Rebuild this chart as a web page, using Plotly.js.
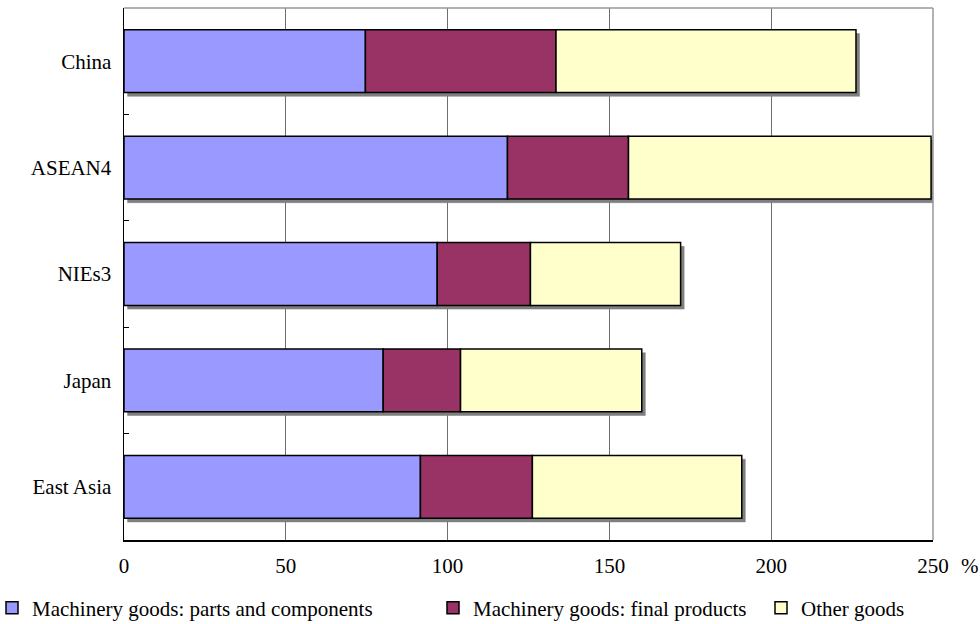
<!DOCTYPE html>
<html>
<head>
<meta charset="utf-8">
<script src="https://cdn.plot.ly/plotly-3.0.1.min.js"></script>
<style>html,body{margin:0;padding:0;background:#fff;}#chart{width:980px;height:624px;}</style>
</head>
<body>
<div id="chart"></div>
<script>
const categories = ["East Asia", "Japan", "NIEs3", "ASEAN4", "China"];
const partsComponents = [91.6, 80.1, 96.8, 118.5, 74.6];
const finalProducts = [34.6, 23.9, 28.8, 37.4, 58.9];
const otherGoods = [64.7, 56.0, 46.4, 93.5, 92.7];
const seriesNames = ["Machinery goods: parts and components", "Machinery goods: final products", "Other goods"];
const xTickVals = [0, 50, 100, 150, 200, 250];

const totals = categories.map((c, i) => partsComponents[i] + finalProducts[i] + otherGoods[i]);
const shadowBase = categories.map(() => 1.1);
const base1 = categories.map(() => 0);
const base2 = partsComponents.slice();
const base3 = categories.map((c, i) => partsComponents[i] + finalProducts[i]);

const W = 0.59;
const font = {family: "Liberation Serif", size: 21, color: "#000"};
const lineStyle = {color: "#000", width: 1.5};

const traces = [
  {type: "bar", orientation: "h", y: categories, x: totals, base: shadowBase, width: W, offset: -W/2 - 0.035,
   marker: {color: "#7f7f7f", line: {color: "#7f7f7f", width: 0.5}}, showlegend: false},
  {type: "bar", orientation: "h", name: seriesNames[0], y: categories, x: partsComponents, base: base1, width: W, offset: -W/2,
   marker: {color: "#9999FF", line: lineStyle}, legend: "legend"},
  {type: "bar", orientation: "h", name: seriesNames[1], y: categories, x: finalProducts, base: base2, width: W, offset: -W/2,
   marker: {color: "#993366", line: lineStyle}, legend: "legend2"},
  {type: "bar", orientation: "h", name: seriesNames[2], y: categories, x: otherGoods, base: base3, width: W, offset: -W/2,
   marker: {color: "#FFFFCC", line: lineStyle}, legend: "legend3"}
];

const legBase = {orientation: "h", xref: "paper", yref: "container", xanchor: "left", yanchor: "middle",
  y: (624 - 608) / 624, font: font, bgcolor: "rgba(0,0,0,0)", itemwidth: 30};
const px = (p) => (p - 124) / 809;

const layout = {
  width: 980, height: 624,
  margin: {l: 124, r: 47, t: 8, b: 84},
  barmode: "overlay",
  paper_bgcolor: "#fff", plot_bgcolor: "#fff",
  font: font,
  xaxis: {range: [0, 250], tickvals: xTickVals, ticks: "", showgrid: true, gridcolor: "#6e6e6e", gridwidth: 1,
    showline: true, linecolor: "#000", linewidth: 1.5, zeroline: false, ticklabelstandoff: 6, tickfont: font, fixedrange: true},
  yaxis: {type: "category", categoryorder: "array", categoryarray: categories, range: [-0.5, 4.5],
    showgrid: false, showline: true, linecolor: "#000", linewidth: 1.5, ticks: "inside", ticklen: 5, tickcolor: "#000",
    tickson: "boundaries", ticklabelstandoff: 7, tickfont: font, zeroline: false, fixedrange: true},
  shapes: [
    {type: "line", xref: "paper", yref: "paper", x0: 0, x1: 1, y0: 1, y1: 1, line: {color: "#999", width: 1.5}},
    {type: "line", xref: "paper", yref: "paper", x0: 1, x1: 1, y0: 0, y1: 1, line: {color: "#999", width: 1.5}}
  ],
  annotations: [
    {text: "%", xref: "paper", yref: "paper", x: 1, y: 0, xanchor: "left", yanchor: "top", xshift: 26, yshift: -12,
     showarrow: false, font: font}
  ],
  legend: Object.assign({}, legBase, {x: px(0), indentation: -8}),
  legend2: Object.assign({}, legBase, {x: px(433)}),
  legend3: Object.assign({}, legBase, {x: px(761)}),
  showlegend: true
};

Plotly.newPlot("chart", traces, layout, {displayModeBar: false, staticPlot: true});
</script>
</body>
</html>
